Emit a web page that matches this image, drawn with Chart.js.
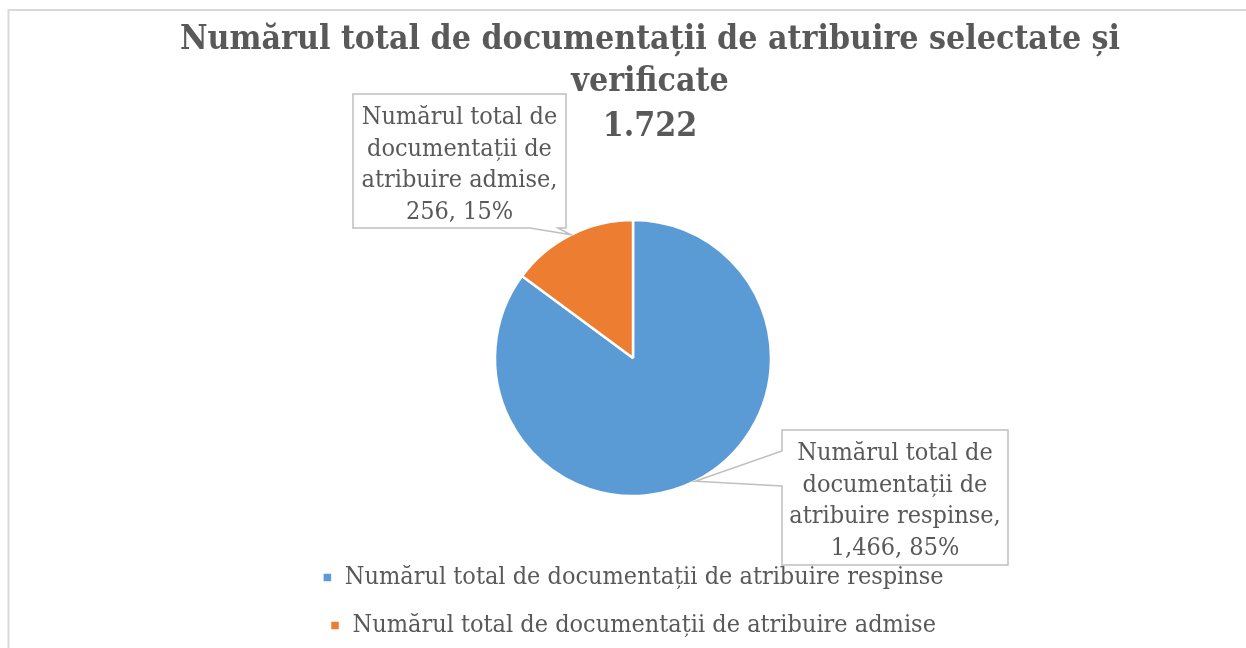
<!DOCTYPE html>
<html>
<head>
<meta charset="utf-8">
<script src="https://cdn.jsdelivr.net/npm/chart.js@4/dist/chart.umd.min.js"></script>
<style>
  html, body { margin: 0; padding: 0; background: #fff; }
  #wrap { width: 1246px; height: 648px; }
</style>
</head>
<body>
<div id="wrap"><canvas id="pieChart" width="1246" height="648"></canvas></div>
<script>
// Chart data
const categories = [
    'Numărul total de documentații de atribuire respinse',
    'Numărul total de documentații de atribuire admise'
];
const values = [1466, 256];
const sliceColors = ['#5b9bd5', '#ed7d31'];
const titleLines = ['Numărul total de documentații de atribuire selectate și', 'verificate', '1.722'];

const FONT = '"DejaVu Serif Condensed", "DejaVu Serif", "Liberation Serif", serif';
const TEXT_COLOR = '#595959';

// callout boxes (layout only), wedge base points on the box edge
const calloutLayout = [
    { x: 782, y: 430, w: 226, h: 135, side: 'left', a: 451, b: 486, wrap: 222 },
    { x: 353, y: 94, w: 213, h: 134, side: 'bottom', a: 530, b: 558, wrap: 210 }
];

function wrapText(ctx, text, maxWidth) {
    const words = text.split(' ');
    const lines = [];
    let line = '';
    words.forEach(w => {
        const test = line ? line + ' ' + w : w;
        if (ctx.measureText(test).width > maxWidth && line) {
            lines.push(line);
            line = w;
        } else {
            line = test;
        }
    });
    if (line) lines.push(line);
    return lines;
}

// frame around the chart
const framePlugin = {
    id: 'frame',
    beforeDraw(chart) {
        const ctx = chart.ctx;
        ctx.save();
        ctx.strokeStyle = '#d9d9d9';
        ctx.lineWidth = 2;
        ctx.beginPath();
        ctx.moveTo(8.5, 648);
        ctx.lineTo(8.5, 10);
        ctx.lineTo(1246, 10);
        ctx.stroke();
        ctx.restore();
    }
};

// title drawn centred a bit right of the pie, like the original
const titlePlugin = {
    id: 'bigTitle',
    afterDraw(chart) {
        const ctx = chart.ctx;
        const baselines = [49, 91, 136];
        ctx.save();
        ctx.fillStyle = TEXT_COLOR;
        ctx.font = 'bold 33.6px ' + FONT;
        ctx.textAlign = 'center';
        ctx.textBaseline = 'alphabetic';
        titleLines.forEach((t, i) => ctx.fillText(t, 650, baselines[i]));
        ctx.restore();
    }
};

// data label callouts with leader wedges
const calloutPlugin = {
    id: 'callouts',
    afterDatasetsDraw(chart) {
        const ctx = chart.ctx;
        const meta = chart.getDatasetMeta(0);
        const data = chart.data.datasets[0].data;
        const total = data.reduce((s, v) => s + v, 0);
        ctx.save();
        meta.data.forEach((arc, i) => {
            const p = arc.getProps(['x', 'y', 'startAngle', 'endAngle', 'outerRadius'], true);
            const mid = (p.startAngle + p.endAngle) / 2;
            const ax = p.x + Math.cos(mid) * p.outerRadius;
            const ay = p.y + Math.sin(mid) * p.outerRadius;
            const box = calloutLayout[i];

            ctx.beginPath();
            if (box.side === 'left') {
                ctx.moveTo(box.x, box.y);
                ctx.lineTo(box.x + box.w, box.y);
                ctx.lineTo(box.x + box.w, box.y + box.h);
                ctx.lineTo(box.x, box.y + box.h);
                ctx.lineTo(box.x, box.b);
                ctx.lineTo(ax, ay);
                ctx.lineTo(box.x, box.a);
            } else {
                ctx.moveTo(box.x, box.y);
                ctx.lineTo(box.x + box.w, box.y);
                ctx.lineTo(box.x + box.w, box.y + box.h);
                ctx.lineTo(box.b, box.y + box.h);
                ctx.lineTo(ax, ay);
                ctx.lineTo(box.a, box.y + box.h);
                ctx.lineTo(box.x, box.y + box.h);
            }
            ctx.closePath();
            ctx.fillStyle = '#ffffff';
            ctx.fill();
            ctx.strokeStyle = '#bfbfbf';
            ctx.lineWidth = 1.5;
            ctx.stroke();

            const pct = Math.round(data[i] / total * 100);
            const text = chart.data.labels[i] + ', ' + data[i].toLocaleString('en-US') + ', ' + pct + '%';
            ctx.font = '25px ' + FONT;
            ctx.fillStyle = TEXT_COLOR;
            ctx.textAlign = 'center';
            ctx.textBaseline = 'alphabetic';
            const lines = wrapText(ctx, text, box.wrap);
            lines.forEach((l, k) => ctx.fillText(l, box.x + box.w / 2, box.y + 30 + k * 31.5));
        });
        ctx.restore();
    }
};

new Chart(document.getElementById('pieChart'), {
    type: 'pie',
    data: {
        labels: categories,
        datasets: [{
            data: values,
            backgroundColor: sliceColors,
            borderColor: '#ffffff',
            borderWidth: 2.5,
            radius: 138
        }]
    },
    options: {
        responsive: false,
        animation: false,
        layout: { padding: { left: 20, right: 0, top: 174, bottom: 0 } },
        plugins: {
            title: { display: false },
            tooltip: { enabled: false },
            legend: {
                position: 'bottom',
                labels: {
                    color: TEXT_COLOR,
                    font: { family: FONT, size: 25 },
                    boxWidth: 10,
                    boxHeight: 10,
                    padding: 23
                }
            }
        }
    },
    plugins: [framePlugin, calloutPlugin, titlePlugin]
});
</script>
</body>
</html>
